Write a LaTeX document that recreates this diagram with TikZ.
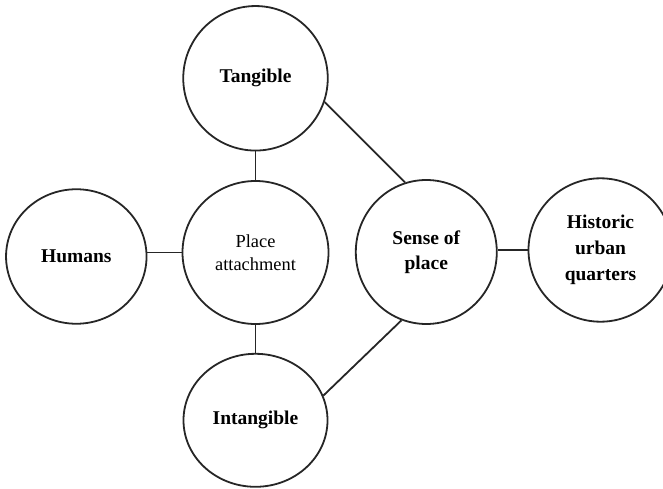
\documentclass[tikz,border=0pt]{standalone}
\usepackage{fontspec}
\setmainfont{Liberation Serif}
\usetikzlibrary{shapes.geometric}
\begin{document}
\begin{tikzpicture}[x=1pt,y=1pt,
  bub/.style={draw=black!85,line width=1.8pt,ellipse,inner sep=0pt,align=center,
    font=\fontsize{19.5}{24}\selectfont\bfseries},
  link/.style={draw=black!85,line width=1.8pt}]
\useasboundingbox (0,0) rectangle (663,488);
\node[bub,minimum width=144.5pt,minimum height=144.5pt] (T) at (255.5,409.7) {Tangible};
\node[bub,minimum width=146pt,minimum height=143pt,font=\fontsize{18.4}{23}\selectfont] (PA) at (255.5,235.5) {Place\\attachment};
\node[bub,minimum width=140.5pt,minimum height=134.5pt] (H) at (76.3,231.5) {Humans};
\node[bub,minimum width=144pt,minimum height=133pt] (I) at (255.5,67.7) {Intangible};
\node[bub,minimum width=141pt,minimum height=144pt,font=\fontsize{19.5}{24.5}\selectfont\bfseries] (SP) at (426.3,236) {Sense of\\place};
\node[bub,minimum width=144pt,minimum height=143.4pt,font=\fontsize{19.5}{26}\selectfont\bfseries] (HQ) at (600.5,238) {Historic\\urban\\quarters};
\draw[link] (T.south) -- (PA.north);
\draw[link] (PA.south) -- (I.north);
\draw[link] (PA.west) -- (PA.west -| H.east);
\draw[link] (HQ.west) -- (HQ.west -| SP.east);
\draw[link] (T.-19) -- (SP.107);
\draw[link] (I.20) -- (SP.250);
\end{tikzpicture}
\end{document}
